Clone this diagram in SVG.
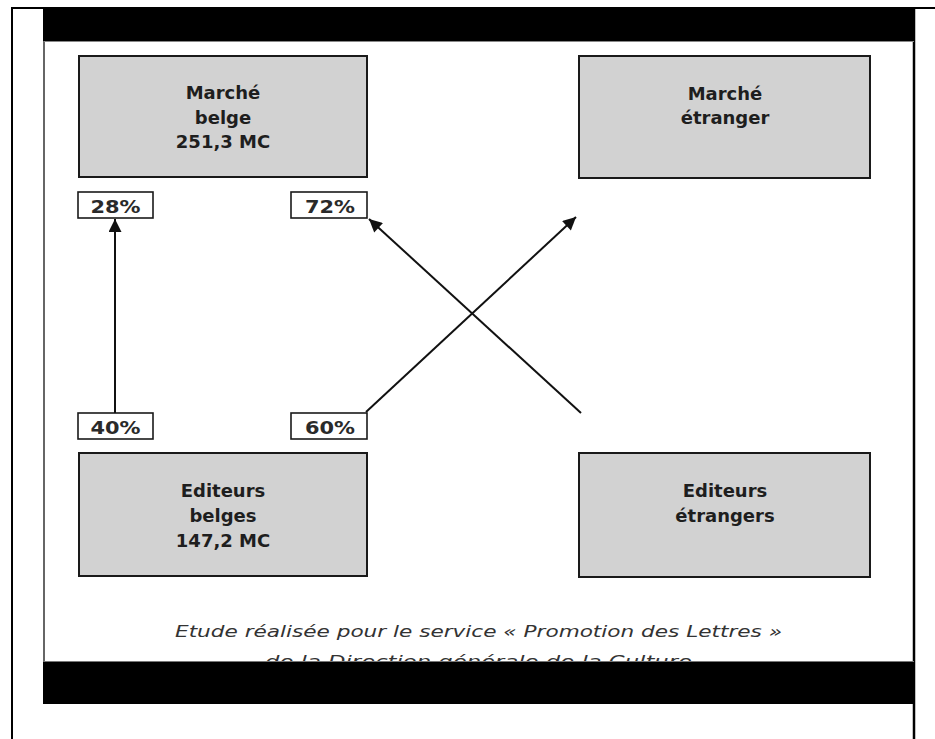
<svg xmlns="http://www.w3.org/2000/svg" width="935" height="739" viewBox="0 0 935 739">
<style>
.box{fill:#d2d2d2;stroke:#1a1a1a;stroke-width:2}
.pct{fill:#ffffff;stroke:#1a1a1a;stroke-width:1.6}
.t{font-family:"DejaVu Sans","Liberation Sans",sans-serif;font-weight:bold;font-size:18px;fill:#1e1e1e;text-anchor:middle}
.p{font-family:"DejaVu Sans","Liberation Sans",sans-serif;font-weight:bold;font-size:17px;fill:#2a2a2a;text-anchor:middle}
.cap{font-family:"DejaVu Sans","Liberation Sans",sans-serif;font-style:italic;font-size:16px;fill:#333}
.ln{stroke:#111;stroke-width:2;fill:none;marker-end:url(#ah)}
</style>
<defs>
<marker id="ah" viewBox="0 0 10 10" refX="10" refY="5" markerWidth="7.5" markerHeight="6.5" markerUnits="strokeWidth" orient="auto">
<path d="M0,0 L10,5 L0,10 z" fill="#111"/>
</marker>
</defs>
<rect width="935" height="739" fill="#ffffff"/>
<g id="frame">
<line x1="12" y1="8" x2="935" y2="8" stroke="#000" stroke-width="2"/>
<line x1="12" y1="7" x2="12" y2="739" stroke="#000" stroke-width="2"/>
<line x1="914" y1="7" x2="914" y2="739" stroke="#000" stroke-width="2.5"/>
<line x1="44" y1="41" x2="44" y2="663" stroke="#333" stroke-width="1.5"/>
<rect x="43" y="8" width="872" height="33" fill="#000"/>
<line x1="44" y1="41.5" x2="914" y2="41.5" stroke="#888" stroke-width="1"/>
</g>
<g id="caption">
<text class="cap" x="175" y="637" textLength="607" lengthAdjust="spacingAndGlyphs">Etude réalisée pour le service « Promotion des Lettres »</text>
<text class="cap" x="265" y="667" textLength="427" lengthAdjust="spacingAndGlyphs">de la Direction générale de la Culture</text>
</g>
<g id="bottom-bar">
<line x1="44" y1="661.5" x2="914" y2="661.5" stroke="#777" stroke-width="1"/>
<rect x="43" y="662" width="872" height="42" fill="#000"/>
</g>
<g id="marche-belge">
<rect class="box" x="79" y="56" width="288" height="121"/>
<text class="t" x="223" y="99">Marché</text>
<text class="t" x="223" y="123.5">belge</text>
<text class="t" x="223" y="148">251,3 MC</text>
</g>
<g id="marche-etranger">
<rect class="box" x="579" y="56" width="291" height="122"/>
<text class="t" x="725" y="100">Marché</text>
<text class="t" x="725" y="123.5">étranger</text>
</g>
<g id="editeurs-belges">
<rect class="box" x="79" y="453" width="288" height="123"/>
<text class="t" x="223" y="497">Editeurs</text>
<text class="t" x="223" y="522">belges</text>
<text class="t" x="223" y="547">147,2 MC</text>
</g>
<g id="editeurs-etrangers">
<rect class="box" x="579" y="453" width="291" height="124"/>
<text class="t" x="725" y="497">Editeurs</text>
<text class="t" x="725" y="522">étrangers</text>
</g>
<g id="pct-28">
<rect class="pct" x="78" y="192" width="75" height="26"/>
<text class="p" x="115.5" y="212.5" textLength="50" lengthAdjust="spacingAndGlyphs">28%</text>
</g>
<g id="pct-72">
<rect class="pct" x="291" y="192" width="76" height="26"/>
<text class="p" x="330" y="212.5" textLength="50" lengthAdjust="spacingAndGlyphs">72%</text>
</g>
<g id="pct-40">
<rect class="pct" x="78" y="413" width="75" height="26"/>
<text class="p" x="115.5" y="433.5" textLength="50" lengthAdjust="spacingAndGlyphs">40%</text>
</g>
<g id="pct-60">
<rect class="pct" x="291" y="413" width="76" height="26"/>
<text class="p" x="330" y="433.5" textLength="50" lengthAdjust="spacingAndGlyphs">60%</text>
</g>
<g id="connectors">
<line class="ln" x1="115" y1="413" x2="115" y2="219"/>
<line class="ln" x1="366" y1="412" x2="576" y2="217"/>
<line class="ln" x1="581" y1="413" x2="369" y2="219"/>
</g>
</svg>
